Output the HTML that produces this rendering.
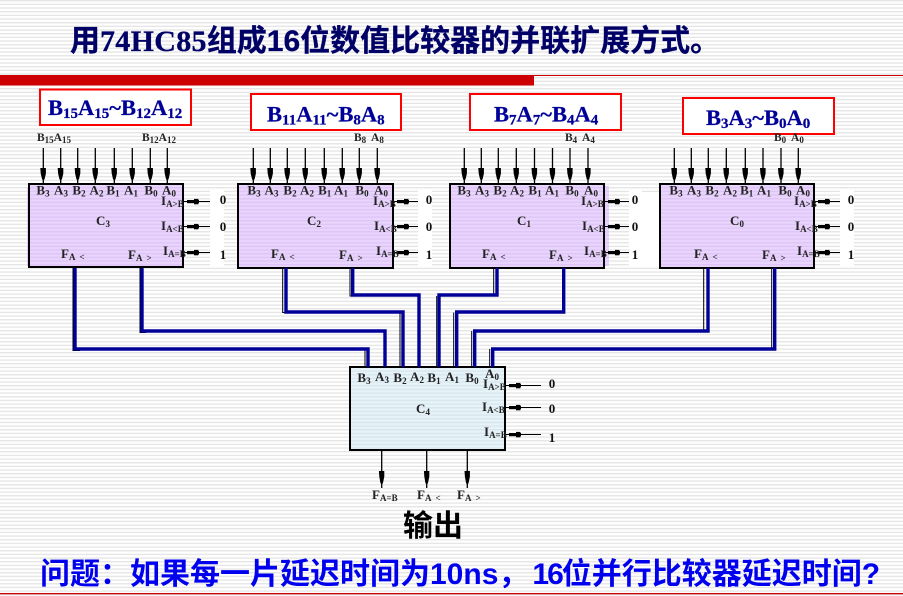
<!DOCTYPE html>
<html lang="zh">
<head>
<meta charset="utf-8">
<title>16位数值比较器的并联扩展方式</title>
<style>
html,body{margin:0;padding:0;background:#fff}
svg{display:block}
text{font-family:"Liberation Serif","Noto Serif CJK SC",serif;font-weight:bold}
.c text{font-size:13px;fill:#222;text-anchor:middle}
.s{font-size:9px}
.i{font-size:13px;fill:#222}
.t{font-size:11.5px;fill:#222}
.t .s{font-size:9px}
.n{font-size:13px;fill:#111;text-anchor:middle}
.b{font-size:22.5px;fill:#000099;stroke:#000099;stroke-width:.25px}
.b tspan{font-size:15px}
.b tspan.m{font-size:22.5px}
.h{font-family:"Liberation Sans","Noto Sans CJK SC",sans-serif;font-size:30px;font-weight:bold}
</style>
</head>
<body>
<svg xmlns="http://www.w3.org/2000/svg" width="903" height="596" viewBox="0 0 903 596">
<defs>
<pattern id="bg" patternUnits="userSpaceOnUse" width="10" height="3.667"><rect width="10" height="3.667" fill="#fff"/><rect width="10" height="1.4" fill="#e6e6e6"/></pattern>
<pattern id="pu" patternUnits="userSpaceOnUse" width="10" height="3.667"><rect width="10" height="3.667" fill="#e8d4fc"/><rect width="10" height="1.4" fill="#dfc6f6"/></pattern>
<pattern id="cy" patternUnits="userSpaceOnUse" width="10" height="3.667"><rect width="10" height="3.667" fill="#e6f3f9"/><rect width="10" height="1.4" fill="#d8e6ee"/></pattern>
<g id="ar"><path d="M0 0V36" stroke="#000" stroke-width="1.3" fill="none"/><path d="M-3 20H2.6V25.5L1.2 31.5H-1.2L-2.6 25.5Z" fill="#000"/></g>
<g id="ou"><path d="M0 0V37" stroke="#000" stroke-width="1.3" fill="none"/><path d="M-2.8 20H2.6V25.5L1.2 32.5H-1.2L-2.4 25.5Z" fill="#000"/></g>
<g id="cb"><rect x="4" y="-1.5" width="12" height="3.2" fill="#000"/><rect x="11" y="-2.6" width="4.4" height="5.4" fill="#000"/></g>
</defs>

<rect width="903" height="596" fill="url(#bg)"/>

<!-- title -->
<text class="h" x="70" y="51" fill="#000066" stroke="#000066" stroke-width=".3">用<tspan style='font-family:"Liberation Serif",serif' letter-spacing=".3">74HC85</tspan>组成16位数值比较器的并联扩展方式。</text>
<rect x="0" y="75" width="903" height="1" fill="#cc0000"/>
<rect x="0" y="75" width="534" height="10.5" fill="#cc0000"/>

<!-- white patches behind digits -->
<g fill="#fff">
<rect x="210" y="190" width="14" height="76"/>
<rect x="418" y="190" width="14" height="76"/>
<rect x="629" y="190" width="13" height="76"/>
<rect x="641" y="192" width="19" height="74"/>
<rect x="840" y="190" width="14" height="76"/>
</g>

<!-- group titles -->
<g fill="#fff" stroke="#ff0000" stroke-width="2">
<rect x="40" y="89.5" width="151" height="35.5"/>
<rect x="251" y="94" width="150" height="36"/>
<rect x="470" y="94" width="151" height="36"/>
<rect x="683" y="98" width="151" height="36"/>
</g>
<text class="b" x="48" y="115">B<tspan dy="3">15</tspan><tspan class="m" dy="-3">A</tspan><tspan dy="3">15</tspan><tspan class="m" dy="-3">~B</tspan><tspan dy="3">12</tspan><tspan class="m" dy="-3">A</tspan><tspan dy="3">12</tspan></text>
<text class="b" x="267" y="121.5">B<tspan dy="3">11</tspan><tspan class="m" dy="-3">A</tspan><tspan dy="3">11</tspan><tspan class="m" dy="-3">~B</tspan><tspan dy="3">8</tspan><tspan class="m" dy="-3">A</tspan><tspan dy="3">8</tspan></text>
<text class="b" x="494" y="121.5">B<tspan dy="3">7</tspan><tspan class="m" dy="-3">A</tspan><tspan dy="3">7</tspan><tspan class="m" dy="-3">~B</tspan><tspan dy="3">4</tspan><tspan class="m" dy="-3">A</tspan><tspan dy="3">4</tspan></text>
<text class="b" x="706" y="125">B<tspan dy="3">3</tspan><tspan class="m" dy="-3">A</tspan><tspan dy="3">3</tspan><tspan class="m" dy="-3">~B</tspan><tspan dy="3">0</tspan><tspan class="m" dy="-3">A</tspan><tspan dy="3">0</tspan></text>

<!-- top labels -->
<text class="t" x="37" y="141">B<tspan class="s" dy="2">15</tspan><tspan dy="-2">A</tspan><tspan class="s" dy="2">15</tspan></text>
<text class="t" x="142" y="141">B<tspan class="s" dy="2">12</tspan><tspan dy="-2">A</tspan><tspan class="s" dy="2">12</tspan></text>
<text class="t" x="354" y="141">B<tspan class="s" dy="2">8</tspan></text>
<text class="t" x="371" y="141">A<tspan class="s" dy="2">8</tspan></text>
<text class="t" x="565" y="141">B<tspan class="s" dy="2">4</tspan></text>
<text class="t" x="582" y="141">A<tspan class="s" dy="2">4</tspan></text>
<text class="t" x="774" y="141">B<tspan class="s" dy="2">0</tspan></text>
<text class="t" x="791" y="141">A<tspan class="s" dy="2">0</tspan></text>

<!-- chips -->
<rect x="27" y="188" width="156" height="78" fill="url(#pu)"/>
<rect x="590" y="186" width="19" height="80" fill="url(#pu)"/>
<g stroke="#000" stroke-width="2">
<rect x="29" y="184" width="154" height="83" fill="url(#pu)"/>
<rect x="238" y="184" width="155" height="84" fill="url(#pu)"/>
<rect x="450" y="184" width="154" height="84" fill="url(#pu)"/>
<rect x="660" y="184" width="154" height="84" fill="url(#pu)"/>
<rect x="350" y="367" width="155" height="83" fill="url(#cy)"/>
</g>

<!-- input arrows -->
<g transform="translate(0,148)">
<use href="#ar" x="43.3"/><use href="#ar" x="60.7"/><use href="#ar" x="77.7"/><use href="#ar" x="95.3"/><use href="#ar" x="114.3"/><use href="#ar" x="132.3"/><use href="#ar" x="150.3"/><use href="#ar" x="167.3"/>
<use href="#ar" x="253.3"/><use href="#ar" x="270.3"/><use href="#ar" x="287.3"/><use href="#ar" x="305.3"/><use href="#ar" x="324.3"/><use href="#ar" x="342.3"/><use href="#ar" x="359.3"/><use href="#ar" x="377.3"/>
<use href="#ar" x="464.3"/><use href="#ar" x="481.3"/><use href="#ar" x="498.3"/><use href="#ar" x="516.3"/><use href="#ar" x="534.5"/><use href="#ar" x="552.5"/><use href="#ar" x="570"/><use href="#ar" x="588"/>
<use href="#ar" x="674.3"/><use href="#ar" x="691.3"/><use href="#ar" x="708.3"/><use href="#ar" x="726.3"/><use href="#ar" x="745.3"/><use href="#ar" x="763"/><use href="#ar" x="781"/><use href="#ar" x="798.3"/>
</g>

<!-- output arrows -->
<g transform="translate(0,451)"><use href="#ou" x="381.7"/><use href="#ou" x="426.7"/><use href="#ou" x="467.3"/></g>

<!-- control lines -->
<path d="M183 201.5H210M183 226.5H210M183 252.5H210M393 201.5H418M393 226.5H418M393 252.5H418M604 201.5H629M604 226.5H629M604 252.5H629M814 201.5H840M814 226.5H840M814 252.5H840M505 385.5H541M505 407.5H541M505 434.5H541" stroke="#000" stroke-width="1.1" fill="none"/>
<use href="#cb" x="183" y="201.5"/><use href="#cb" x="183" y="226.5"/><use href="#cb" x="183" y="252.5"/>
<use href="#cb" x="393" y="201.5"/><use href="#cb" x="393" y="226.5"/><use href="#cb" x="393" y="252.5"/>
<use href="#cb" x="604" y="201.5"/><use href="#cb" x="604" y="226.5"/><use href="#cb" x="604" y="252.5"/>
<use href="#cb" x="814" y="201.5"/><use href="#cb" x="814" y="226.5"/><use href="#cb" x="814" y="252.5"/>
<use href="#cb" x="505" y="385.5"/><use href="#cb" x="505" y="407.5"/><use href="#cb" x="505" y="434.5"/>

<!-- digits -->
<g>
<text class="n" x="223" y="204">0</text><text class="n" x="223" y="231">0</text><text class="n" x="223" y="259">1</text>
<text class="n" x="429" y="204">0</text><text class="n" x="429" y="231">0</text><text class="n" x="429" y="259">1</text>
<text class="n" x="635" y="204">0</text><text class="n" x="635" y="231">0</text><text class="n" x="635" y="259">1</text>
<text class="n" x="851" y="204">0</text><text class="n" x="851" y="231">0</text><text class="n" x="851" y="259">1</text>
<text class="n" x="552" y="388">0</text><text class="n" x="552" y="413">0</text><text class="n" x="552" y="442">1</text>
</g>

<!-- bus shadows -->
<path d="M282.7 268V312.5H286M350 268V296H353M493.7 268V295H497M703.7 268V331H708M771.7 268V349H775M365 349.5V367M400 312.5V367M436.7 296V367M453.7 312.5V367M471.7 331V367M489.7 349V367" stroke="#000" stroke-width="1" fill="none"/>
<path d="M73 268V350.5H80M140 268V332.5H146" stroke="#000" stroke-width="1" fill="none"/>

<!-- buses -->
<g stroke="#000099" stroke-width="3.4" fill="none" stroke-linejoin="miter">
<path d="M75 268V349H368V367"/>
<path d="M142 268V331H385V367"/>
<path d="M286 268V312H403V367"/>
<path d="M352.7 268V295H419V367"/>
<path d="M497 268V295H439V367"/>
<path d="M563.7 268V312H456.7V367"/>
<path d="M708 268V331H474.7V367"/>
<path d="M774.7 268V349H492.7V367"/>
</g>

<!-- pin labels C3 -->
<g class="c">
<text x="43" y="194.5">B<tspan class="s" dy="2">3</tspan></text><text x="61" y="194.5">A<tspan class="s" dy="2">3</tspan></text><text x="79" y="194.5">B<tspan class="s" dy="2">2</tspan></text><text x="96.5" y="194.5">A<tspan class="s" dy="2">2</tspan></text><text x="113" y="194.5">B<tspan class="s" dy="2">1</tspan></text><text x="131" y="194.5">A<tspan class="s" dy="2">1</tspan></text><text x="151" y="194.5">B<tspan class="s" dy="2">0</tspan></text><text x="169" y="194.5">A<tspan class="s" dy="2">0</tspan></text>
<text x="103" y="225">C<tspan class="s" dy="2">3</tspan></text>
<!-- C2 -->
<text x="254" y="194.5">B<tspan class="s" dy="2">3</tspan></text><text x="271.5" y="194.5">A<tspan class="s" dy="2">3</tspan></text><text x="290" y="194.5">B<tspan class="s" dy="2">2</tspan></text><text x="307" y="194.5">A<tspan class="s" dy="2">2</tspan></text><text x="324.7" y="194.5">B<tspan class="s" dy="2">1</tspan></text><text x="341" y="194.5">A<tspan class="s" dy="2">1</tspan></text><text x="362" y="194.5">B<tspan class="s" dy="2">0</tspan></text><text x="381" y="194.5">A<tspan class="s" dy="2">0</tspan></text>
<text x="314" y="225">C<tspan class="s" dy="2">2</tspan></text>
<!-- C1 -->
<text x="464" y="194.5">B<tspan class="s" dy="2">3</tspan></text><text x="482" y="194.5">A<tspan class="s" dy="2">3</tspan></text><text x="500" y="194.5">B<tspan class="s" dy="2">2</tspan></text><text x="517" y="194.5">A<tspan class="s" dy="2">2</tspan></text><text x="535" y="194.5">B<tspan class="s" dy="2">1</tspan></text><text x="552" y="194.5">A<tspan class="s" dy="2">1</tspan></text><text x="572" y="194.5">B<tspan class="s" dy="2">0</tspan></text><text x="591" y="194.5">A<tspan class="s" dy="2">0</tspan></text>
<text x="524" y="225">C<tspan class="s" dy="2">1</tspan></text>
<!-- C0 -->
<text x="676" y="194.5">B<tspan class="s" dy="2">3</tspan></text><text x="694" y="194.5">A<tspan class="s" dy="2">3</tspan></text><text x="712" y="194.5">B<tspan class="s" dy="2">2</tspan></text><text x="730" y="194.5">A<tspan class="s" dy="2">2</tspan></text><text x="746.7" y="194.5">B<tspan class="s" dy="2">1</tspan></text><text x="764" y="194.5">A<tspan class="s" dy="2">1</tspan></text><text x="785" y="194.5">B<tspan class="s" dy="2">0</tspan></text><text x="803" y="194.5">A<tspan class="s" dy="2">0</tspan></text>
<text x="737" y="225">C<tspan class="s" dy="2">0</tspan></text>
<!-- C4 -->
<text x="364" y="382">B<tspan class="s" dy="2">3</tspan></text><text x="382" y="381">A<tspan class="s" dy="2">3</tspan></text><text x="400" y="382">B<tspan class="s" dy="2">2</tspan></text><text x="417" y="381">A<tspan class="s" dy="2">2</tspan></text><text x="434" y="382">B<tspan class="s" dy="2">1</tspan></text><text x="452" y="381">A<tspan class="s" dy="2">1</tspan></text><text x="472" y="382">B<tspan class="s" dy="2">0</tspan></text><text x="492" y="378">A<tspan class="s" dy="2">0</tspan></text>
<text x="423" y="413">C<tspan class="s" dy="2">4</tspan></text>
</g>

<!-- I labels -->
<text class="i" x="161" y="205">I<tspan class="s" dy="2">A&gt;B</tspan></text><text class="i" x="161" y="230">I<tspan class="s" dy="2">A&lt;B</tspan></text><text class="i" x="163" y="255">I<tspan class="s" dy="2">A=B</tspan></text>
<text class="i" x="373" y="205">I<tspan class="s" dy="2">A&gt;B</tspan></text><text class="i" x="374" y="230">I<tspan class="s" dy="2">A&lt;B</tspan></text><text class="i" x="376" y="255">I<tspan class="s" dy="2">A=B</tspan></text>
<text class="i" x="581" y="205">I<tspan class="s" dy="2">A&gt;B</tspan></text><text class="i" x="582" y="230">I<tspan class="s" dy="2">A&lt;B</tspan></text><text class="i" x="584" y="255">I<tspan class="s" dy="2">A=B</tspan></text>
<text class="i" x="794" y="205">I<tspan class="s" dy="2">A&gt;B</tspan></text><text class="i" x="795" y="230">I<tspan class="s" dy="2">A&lt;B</tspan></text><text class="i" x="797" y="255">I<tspan class="s" dy="2">A=B</tspan></text>
<text class="i" x="483" y="388">I<tspan class="s" dy="2">A&gt;B</tspan></text><text class="i" x="482" y="411">I<tspan class="s" dy="2">A&lt;B</tspan></text><text class="i" x="484" y="436">I<tspan class="s" dy="2">A=B</tspan></text>

<!-- F labels -->
<text class="i" x="61" y="258">F<tspan class="s" dy="2">A &#160;&lt;</tspan></text><text class="i" x="128" y="259">F<tspan class="s" dy="2">A &#160;&gt;</tspan></text>
<text class="i" x="271" y="258">F<tspan class="s" dy="2">A &#160;&lt;</tspan></text><text class="i" x="339" y="259">F<tspan class="s" dy="2">A &#160;&gt;</tspan></text>
<text class="i" x="482" y="258">F<tspan class="s" dy="2">A &#160;&lt;</tspan></text><text class="i" x="549" y="259">F<tspan class="s" dy="2">A &#160;&gt;</tspan></text>
<text class="i" x="694" y="258">F<tspan class="s" dy="2">A &#160;&lt;</tspan></text><text class="i" x="762" y="259">F<tspan class="s" dy="2">A &#160;&gt;</tspan></text>
<text class="i" x="372" y="499">F<tspan class="s" dy="2">A=B</tspan></text><text class="i" x="417" y="499">F<tspan class="s" dy="2">A &#160;&lt;</tspan></text><text class="i" x="457" y="499">F<tspan class="s" dy="2">A &#160;&gt;</tspan></text>

<!-- bottom text -->
<text class="h" x="403" y="536" fill="#000">输出</text>
<text class="h" x="40" y="584" fill="#0000ee">问题：如果每一片延迟时间为10ns，<tspan dx="4" letter-spacing="-2">16</tspan>位并行比较器延迟时间?</text>
<rect x="0" y="593" width="903" height="1.3" fill="#cc0000"/>
</svg>
</body>
</html>
